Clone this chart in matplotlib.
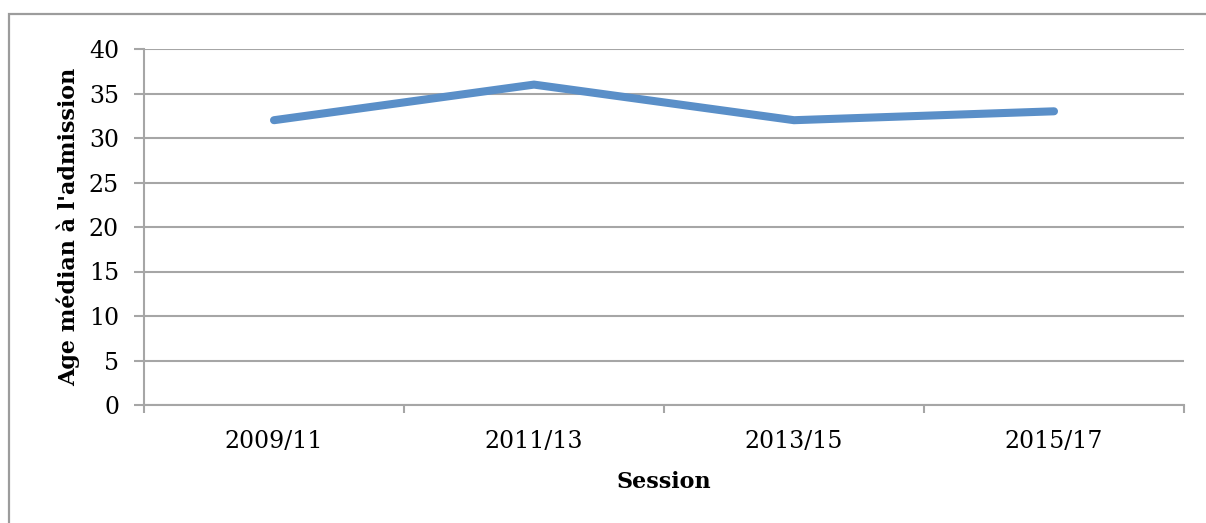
import matplotlib
matplotlib.use("Agg")
import matplotlib.pyplot as plt
from matplotlib.patches import Rectangle

sessions = ["2009/11", "2011/13", "2013/15", "2015/17"]
median_age = [32, 36, 32, 33]
y_ticks = [0, 5, 10, 15, 20, 25, 30, 35, 40]

W, H = 1206, 523
fig = plt.figure(figsize=(W / 100, H / 100), dpi=100)
plt.rcParams['font.family'] = ['DejaVu Serif']

# outer chart border (clipped at right/bottom like the reference)
fig.patches.append(Rectangle((9 / W, -0.05), 1.1, (H - 14) / H + 0.05,
                             transform=fig.transFigure, fill=False,
                             edgecolor='#9c9c9c', linewidth=1.6))

ax = fig.add_axes([144 / W, (H - 405) / H, (1184 - 144) / W, (405 - 49) / H])
x = list(range(len(sessions)))
ax.plot(x, median_age, color='#5a8fc8', linewidth=5.8, solid_capstyle='round',
        solid_joinstyle='miter', zorder=3)

ax.set_xlim(-0.5, len(sessions) - 0.5)
ax.set_ylim(0, 40)
ax.set_yticks(y_ticks)
ax.grid(axis='y', color='#a6a6a6', linewidth=1.5)
ax.set_axisbelow(True)

ax.set_xticks(x)
ax.set_xticklabels(sessions, fontsize=17)
ax.tick_params(axis='x', length=0, pad=18)
ax.set_xticks([i - 0.5 for i in range(len(sessions) + 1)], minor=True)
ax.tick_params(axis='x', which='minor', length=6, width=1.5, color='#a6a6a6')
ax.tick_params(axis='y', length=7, width=1.5, color='#a6a6a6', labelsize=17, pad=11)

for s in ['top', 'right']:
    ax.spines[s].set_visible(False)
for s in ['left', 'bottom']:
    ax.spines[s].set_color('#a6a6a6')
    ax.spines[s].set_linewidth(1.5)

ax.set_xlabel("Session", fontsize=16, fontweight='bold', labelpad=13)
ax.set_ylabel("Age médian à l'admission", fontsize=16, fontweight='bold', labelpad=6)

fig.savefig("out.png", dpi=100)
